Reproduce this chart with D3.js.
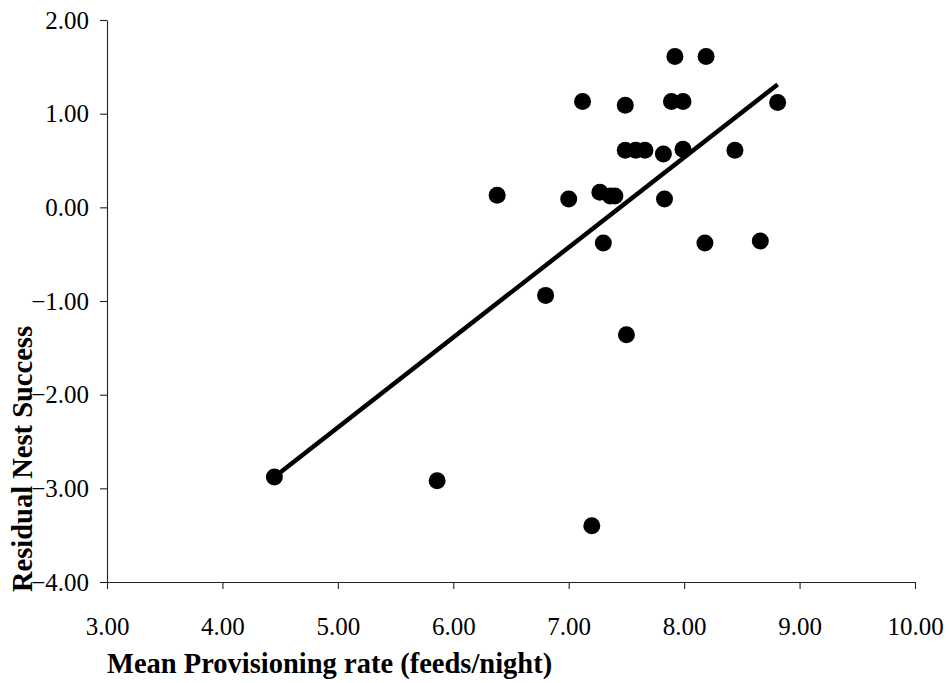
<!DOCTYPE html>
<html>
<head>
<meta charset="utf-8">
<script src="https://cdn.jsdelivr.net/npm/d3@7"></script>
<style>
  html, body { margin: 0; padding: 0; background: #fff; }
  svg { display: block; }
  .tick text { font-family: "Liberation Serif", "Times New Roman", serif; font-size: 25px; fill: #000; }
  .title { font-family: "Liberation Serif", "Times New Roman", serif; font-size: 28.5px; font-weight: bold; fill: #000; }
</style>
</head>
<body>
<svg id="chart" width="951" height="683"></svg>
<script>
// Mean provisioning rate (feeds/night) for each nest
const provisioning = [
  4.45, 5.86, 6.38, 6.80, 7.00, 7.12, 7.20, 7.27, 7.36, 7.40,
  7.30, 7.49, 7.49, 7.50, 7.58, 7.66, 7.82, 7.83, 7.89, 7.92,
  7.99, 7.99, 8.18, 8.19, 8.44, 8.66, 8.81
];
// Residual nest success for the same nests
const residual = [
  -2.88, -2.92, 0.13, -0.94, 0.09, 1.13, -3.40, 0.16, 0.12, 0.12,
  -0.38, 1.09, 0.61, -1.36, 0.61, 0.61, 0.57, 0.09, 1.13, 1.61,
  1.13, 0.62, -0.38, 1.61, 0.61, -0.36, 1.12
];
// Least-squares fit: residual = slope * provisioning + intercept
const fitSlope = [0.961];
const fitIntercept = [-7.155];

const xTicks = [3, 4, 5, 6, 7, 8, 9, 10];
const yTicks = [-4, -3, -2, -1, 0, 1, 2];

const svg = d3.select("#chart");
const x = d3.scaleLinear().domain([3, 10]).range([107, 915]);
const y = d3.scaleLinear().domain([-4, 2]).range([582, 20]);
const fmt = d3.format(".2f");

// Axes
const xAxis = svg.append("g")
  .attr("transform", `translate(0,${y(-4)})`)
  .call(d3.axisBottom(x).tickValues(xTicks).tickFormat(fmt).tickSizeInner(7).tickSizeOuter(0).tickPadding(28));
const yAxis = svg.append("g")
  .attr("transform", `translate(${x(3)},0)`)
  .call(d3.axisLeft(y).tickValues(yTicks).tickFormat(fmt).tickSizeInner(7).tickSizeOuter(0).tickPadding(11));
[xAxis, yAxis].forEach(g => {
  g.select(".domain").attr("stroke", "#222").attr("stroke-width", 1.1);
  g.selectAll(".tick line").attr("stroke", "#222").attr("stroke-width", 1.1);
});

// Regression line across the observed range
const xr = d3.extent(provisioning);
svg.append("line")
  .attr("x1", x(xr[0])).attr("y1", y(fitSlope[0] * xr[0] + fitIntercept[0]))
  .attr("x2", x(xr[1])).attr("y2", y(fitSlope[0] * xr[1] + fitIntercept[0]))
  .attr("stroke", "#000").attr("stroke-width", 4.5);

// Nest points
svg.append("g").selectAll("circle")
  .data(d3.range(provisioning.length))
  .join("circle")
  .attr("cx", i => x(provisioning[i]))
  .attr("cy", i => y(residual[i]))
  .attr("r", 8.5)
  .attr("fill", "#000");

// Axis titles
svg.append("text").attr("class", "title")
  .attr("x", 107).attr("y", 673)
  .text("Mean Provisioning rate (feeds/night)");
svg.append("text").attr("class", "title")
  .attr("transform", "translate(32,459) rotate(-90)")
  .attr("text-anchor", "middle")
  .text("Residual Nest Success");
</script>
</body>
</html>
